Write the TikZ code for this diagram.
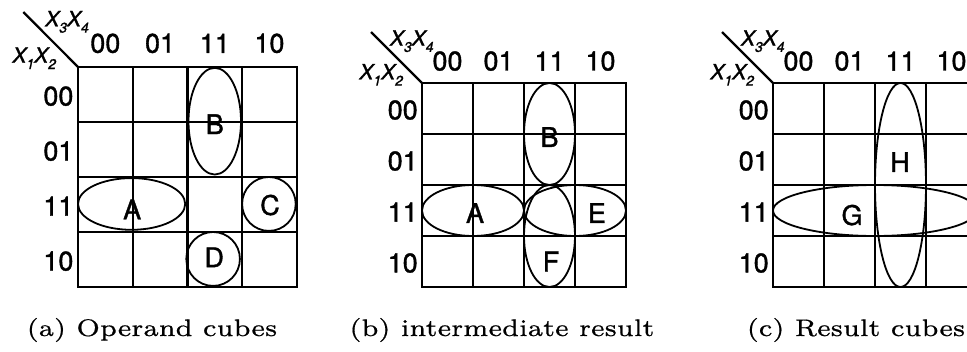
\documentclass[tikz,border=0pt]{standalone}
\usepackage{fontspec}
\usepackage{graphicx}
\newfontfamily\mapfont{TeX Gyre Heros}[FakeBold=1.3]
\newfontfamily\capfont{lmroman7-regular.otf}[FakeBold=0.6]
\newcommand{\vsub}[1]{\raisebox{-0.3em}{\fontsize{14}{14}\selectfont #1}}
\tikzset{
  gridline/.style={line width=2.2pt},
  loopline/.style={line width=1.8pt},
  lbl/.style={font=\mapfont\fontsize{27}{27}\selectfont, inner sep=0pt},
  varlbl/.style={font=\mapfont\itshape\fontsize{21}{21}\selectfont, inner sep=0pt},
  captext/.style={font=\capfont\fontsize{24}{24}\selectfont, inner sep=0pt, anchor=base},
}
\newcommand{\kmapgrid}[1]{%
  \draw[gridline] (0,0) rectangle (4,4);
  \foreach \i in {1,2,3} {
    \draw[gridline] (\i,0) -- (\i,4);
    \draw[gridline] (0,\i) -- (4,\i);
  }
  \coordinate (#1-corner) at (0,0);
  \coordinate (#1-diag) at (-1,-1);
  \draw[gridline] (#1-diag) -- (#1-corner);
  \foreach \lab [count=\k from 0] in {00,01,11,10} {
    \node[lbl] (#1-col\k) at (\k+0.5,-0.43) {\lab};
    \node[lbl, anchor=east] (#1-row\k) at (-0.08,\k+0.53) {\lab};
  }
  \node[varlbl] (#1-x34) at (-0.2,-0.82) {X\vsub{3}X\vsub{4}};
  \node[varlbl] (#1-x12) at (-0.8,-0.16) {X\vsub{1}X\vsub{2}};
}
\begin{document}
\begin{tikzpicture}[x=1pt,y=-1pt]
\clip (0,0) rectangle (967,351);
\fill[white] (0,0) rectangle (967,351);
% (a)
\begin{scope}[shift={(78,67)}, x=54.7pt, y=-55pt]
  \kmapgrid{a}
  \draw[loopline] (2.5,0.985) ellipse [x radius=0.48, y radius=0.97];
  \draw[loopline] (0.98,2.49) ellipse [x radius=0.98, y radius=0.47];
  \draw[loopline] (3.49,2.49) ellipse [x radius=0.49, y radius=0.49];
  \draw[loopline] (2.47,3.49) ellipse [x radius=0.49, y radius=0.49];
  \node[lbl] (a-B) at (2.5,1.04) {B};
  \node[lbl] (a-A) at (0.99,2.59) {A};
  \node[lbl] (a-C) at (3.51,2.51) {C};
  \node[lbl] (a-D) at (2.49,3.46) {D};
\end{scope}
% (b)
\begin{scope}[shift={(422,83)}, x=51pt, y=-51pt]
  \kmapgrid{b}
  \draw[loopline] (2.5,1) ellipse [x radius=0.5, y radius=1];
  \draw[loopline] (1,2.5) ellipse [x radius=1, y radius=0.5];
  \draw[loopline] (3,2.5) ellipse [x radius=1, y radius=0.5];
  \draw[loopline] (2.5,3) ellipse [x radius=0.5, y radius=1];
  \node[lbl] (b-B) at (2.5,1.06) {B};
  \node[lbl] (b-A) at (1.04,2.55) {A};
  \node[lbl] (b-E) at (3.43,2.55) {E};
  \node[lbl] (b-F) at (2.53,3.5) {F};
\end{scope}
% (c)
\begin{scope}[shift={(773,83)}, x=51pt, y=-51pt]
  \kmapgrid{c}
  \draw[loopline] (2.5,2) ellipse [x radius=0.5, y radius=2];
  \draw[loopline] (2,2.5) ellipse [x radius=2, y radius=0.5];
  \node[lbl] (c-H) at (2.49,1.55) {H};
  \node[lbl] (c-G) at (1.55,2.59) {G};
\end{scope}
% captions
\node[captext] (capa) at (152,336) {\scalebox{1.12}[1]{(a) Operand cubes}};
\node[captext] (capb) at (502,336) {\scalebox{1.12}[1]{(b) intermediate result}};
\node[captext] (capc) at (856,336) {\scalebox{1.12}[1]{(c) Result cubes}};
\end{tikzpicture}
\end{document}
